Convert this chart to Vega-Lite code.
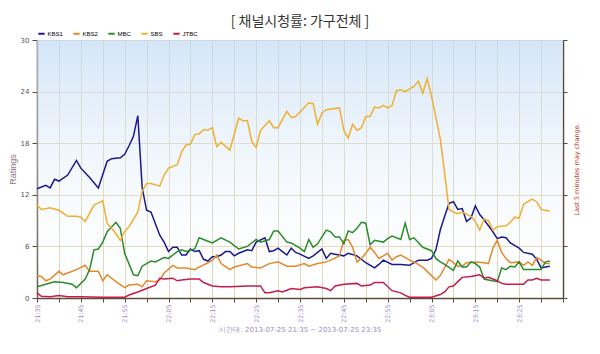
{
"$schema": "https://vega.github.io/schema/vega-lite/v6.json",
"width": 526, "height": 258,
"padding": {"left": 8, "top": 15, "right": 12, "bottom": 16},
"background": "white",
"title": {"text": "[ 채널시청률: 가구전체 ]", "font": "Noto Sans CJK KR", "fontSize": 14, "fontWeight": "normal", "color": "#333333", "anchor": "middle", "offset": 0},
"view": {"stroke": null},
"datasets": {
"bg": [{"t": "2013-07-25T21:35", "t2": "2013-07-25T23:35", "lo": 0, "hi": 30}],
"ratings": [
{"t":"2013-07-25T21:35","s":"KBS1","v":12.7},{"t":"2013-07-25T21:37","s":"KBS1","v":13.1},{"t":"2013-07-25T21:38","s":"KBS1","v":12.8},{"t":"2013-07-25T21:39","s":"KBS1","v":13.8},{"t":"2013-07-25T21:40","s":"KBS1","v":13.6},{"t":"2013-07-25T21:42","s":"KBS1","v":14.3},{"t":"2013-07-25T21:44","s":"KBS1","v":16.0},{"t":"2013-07-25T21:45","s":"KBS1","v":15.1},{"t":"2013-07-25T21:47","s":"KBS1","v":14.0},{"t":"2013-07-25T21:49","s":"KBS1","v":12.8},{"t":"2013-07-25T21:51","s":"KBS1","v":15.9},{"t":"2013-07-25T21:52","s":"KBS1","v":16.2},{"t":"2013-07-25T21:54","s":"KBS1","v":16.3},{"t":"2013-07-25T21:55","s":"KBS1","v":16.7},{"t":"2013-07-25T21:56","s":"KBS1","v":17.7},{"t":"2013-07-25T21:57","s":"KBS1","v":18.8},{"t":"2013-07-25T21:58","s":"KBS1","v":21.2},{"t":"2013-07-25T21:59","s":"KBS1","v":12.8},{"t":"2013-07-25T22:00","s":"KBS1","v":10.2},{"t":"2013-07-25T22:01","s":"KBS1","v":10.0},{"t":"2013-07-25T22:03","s":"KBS1","v":7.3},{"t":"2013-07-25T22:04","s":"KBS1","v":6.5},{"t":"2013-07-25T22:05","s":"KBS1","v":5.4},{"t":"2013-07-25T22:06","s":"KBS1","v":5.9},{"t":"2013-07-25T22:07","s":"KBS1","v":5.9},{"t":"2013-07-25T22:08","s":"KBS1","v":5.0},{"t":"2013-07-25T22:09","s":"KBS1","v":5.0},{"t":"2013-07-25T22:10","s":"KBS1","v":5.7},{"t":"2013-07-25T22:11","s":"KBS1","v":5.4},{"t":"2013-07-25T22:12","s":"KBS1","v":5.5},{"t":"2013-07-25T22:13","s":"KBS1","v":4.5},{"t":"2013-07-25T22:14","s":"KBS1","v":4.3},{"t":"2013-07-25T22:15","s":"KBS1","v":4.8},{"t":"2013-07-25T22:16","s":"KBS1","v":4.8},{"t":"2013-07-25T22:17","s":"KBS1","v":5.0},{"t":"2013-07-25T22:18","s":"KBS1","v":5.4},{"t":"2013-07-25T22:19","s":"KBS1","v":5.4},{"t":"2013-07-25T22:20","s":"KBS1","v":4.9},{"t":"2013-07-25T22:21","s":"KBS1","v":5.2},{"t":"2013-07-25T22:23","s":"KBS1","v":5.6},{"t":"2013-07-25T22:24","s":"KBS1","v":5.5},{"t":"2013-07-25T22:25","s":"KBS1","v":6.5},{"t":"2013-07-25T22:27","s":"KBS1","v":7.0},{"t":"2013-07-25T22:28","s":"KBS1","v":5.4},{"t":"2013-07-25T22:29","s":"KBS1","v":5.5},{"t":"2013-07-25T22:30","s":"KBS1","v":5.8},{"t":"2013-07-25T22:31","s":"KBS1","v":5.4},{"t":"2013-07-25T22:32","s":"KBS1","v":5.0},{"t":"2013-07-25T22:33","s":"KBS1","v":5.8},{"t":"2013-07-25T22:34","s":"KBS1","v":5.3},{"t":"2013-07-25T22:35","s":"KBS1","v":5.1},{"t":"2013-07-25T22:37","s":"KBS1","v":4.6},{"t":"2013-07-25T22:38","s":"KBS1","v":4.9},{"t":"2013-07-25T22:40","s":"KBS1","v":5.7},{"t":"2013-07-25T22:41","s":"KBS1","v":4.6},{"t":"2013-07-25T22:42","s":"KBS1","v":5.2},{"t":"2013-07-25T22:43","s":"KBS1","v":5.1},{"t":"2013-07-25T22:45","s":"KBS1","v":4.9},{"t":"2013-07-25T22:46","s":"KBS1","v":5.2},{"t":"2013-07-25T22:48","s":"KBS1","v":4.9},{"t":"2013-07-25T22:50","s":"KBS1","v":4.1},{"t":"2013-07-25T22:52","s":"KBS1","v":3.5},{"t":"2013-07-25T22:53","s":"KBS1","v":3.9},{"t":"2013-07-25T22:54","s":"KBS1","v":4.4},{"t":"2013-07-25T22:56","s":"KBS1","v":3.9},{"t":"2013-07-25T22:58","s":"KBS1","v":3.9},{"t":"2013-07-25T23:00","s":"KBS1","v":3.8},{"t":"2013-07-25T23:02","s":"KBS1","v":4.4},{"t":"2013-07-25T23:04","s":"KBS1","v":4.4},{"t":"2013-07-25T23:05","s":"KBS1","v":4.6},{"t":"2013-07-25T23:06","s":"KBS1","v":5.6},{"t":"2013-07-25T23:07","s":"KBS1","v":7.9},{"t":"2013-07-25T23:08","s":"KBS1","v":9.5},{"t":"2013-07-25T23:09","s":"KBS1","v":11.0},{"t":"2013-07-25T23:10","s":"KBS1","v":11.2},{"t":"2013-07-25T23:11","s":"KBS1","v":10.3},{"t":"2013-07-25T23:12","s":"KBS1","v":10.4},{"t":"2013-07-25T23:13","s":"KBS1","v":8.9},{"t":"2013-07-25T23:14","s":"KBS1","v":9.3},{"t":"2013-07-25T23:15","s":"KBS1","v":10.7},{"t":"2013-07-25T23:16","s":"KBS1","v":9.7},{"t":"2013-07-25T23:17","s":"KBS1","v":9.1},{"t":"2013-07-25T23:19","s":"KBS1","v":7.7},{"t":"2013-07-25T23:20","s":"KBS1","v":6.9},{"t":"2013-07-25T23:21","s":"KBS1","v":7.1},{"t":"2013-07-25T23:22","s":"KBS1","v":7.0},{"t":"2013-07-25T23:23","s":"KBS1","v":6.4},{"t":"2013-07-25T23:25","s":"KBS1","v":5.8},{"t":"2013-07-25T23:26","s":"KBS1","v":5.3},{"t":"2013-07-25T23:28","s":"KBS1","v":5.1},{"t":"2013-07-25T23:29","s":"KBS1","v":4.5},{"t":"2013-07-25T23:30","s":"KBS1","v":3.5},{"t":"2013-07-25T23:31","s":"KBS1","v":3.6},{"t":"2013-07-25T23:32","s":"KBS1","v":3.7},
{"t":"2013-07-25T21:35","s":"KBS2","v":2.6},{"t":"2013-07-25T21:36","s":"KBS2","v":2.5},{"t":"2013-07-25T21:37","s":"KBS2","v":2.0},{"t":"2013-07-25T21:38","s":"KBS2","v":2.2},{"t":"2013-07-25T21:40","s":"KBS2","v":3.1},{"t":"2013-07-25T21:41","s":"KBS2","v":2.7},{"t":"2013-07-25T21:42","s":"KBS2","v":2.9},{"t":"2013-07-25T21:44","s":"KBS2","v":3.3},{"t":"2013-07-25T21:46","s":"KBS2","v":3.8},{"t":"2013-07-25T21:47","s":"KBS2","v":3.1},{"t":"2013-07-25T21:49","s":"KBS2","v":3.1},{"t":"2013-07-25T21:50","s":"KBS2","v":2.0},{"t":"2013-07-25T21:51","s":"KBS2","v":2.7},{"t":"2013-07-25T21:53","s":"KBS2","v":1.9},{"t":"2013-07-25T21:55","s":"KBS2","v":1.2},{"t":"2013-07-25T21:56","s":"KBS2","v":1.5},{"t":"2013-07-25T21:58","s":"KBS2","v":1.6},{"t":"2013-07-25T21:59","s":"KBS2","v":1.3},{"t":"2013-07-25T22:00","s":"KBS2","v":2.0},{"t":"2013-07-25T22:02","s":"KBS2","v":1.9},{"t":"2013-07-25T22:03","s":"KBS2","v":2.1},{"t":"2013-07-25T22:04","s":"KBS2","v":2.9},{"t":"2013-07-25T22:06","s":"KBS2","v":3.8},{"t":"2013-07-25T22:07","s":"KBS2","v":3.5},{"t":"2013-07-25T22:09","s":"KBS2","v":3.5},{"t":"2013-07-25T22:11","s":"KBS2","v":3.3},{"t":"2013-07-25T22:12","s":"KBS2","v":3.6},{"t":"2013-07-25T22:14","s":"KBS2","v":4.1},{"t":"2013-07-25T22:15","s":"KBS2","v":4.4},{"t":"2013-07-25T22:16","s":"KBS2","v":5.0},{"t":"2013-07-25T22:17","s":"KBS2","v":4.0},{"t":"2013-07-25T22:19","s":"KBS2","v":3.3},{"t":"2013-07-25T22:20","s":"KBS2","v":3.6},{"t":"2013-07-25T22:23","s":"KBS2","v":4.0},{"t":"2013-07-25T22:24","s":"KBS2","v":3.6},{"t":"2013-07-25T22:26","s":"KBS2","v":3.5},{"t":"2013-07-25T22:28","s":"KBS2","v":4.0},{"t":"2013-07-25T22:30","s":"KBS2","v":4.2},{"t":"2013-07-25T22:32","s":"KBS2","v":3.7},{"t":"2013-07-25T22:34","s":"KBS2","v":3.7},{"t":"2013-07-25T22:36","s":"KBS2","v":4.0},{"t":"2013-07-25T22:37","s":"KBS2","v":3.7},{"t":"2013-07-25T22:39","s":"KBS2","v":4.0},{"t":"2013-07-25T22:41","s":"KBS2","v":4.2},{"t":"2013-07-25T22:42","s":"KBS2","v":4.4},{"t":"2013-07-25T22:44","s":"KBS2","v":4.9},{"t":"2013-07-25T22:45","s":"KBS2","v":6.7},{"t":"2013-07-25T22:46","s":"KBS2","v":6.8},{"t":"2013-07-25T22:47","s":"KBS2","v":5.9},{"t":"2013-07-25T22:48","s":"KBS2","v":4.2},{"t":"2013-07-25T22:49","s":"KBS2","v":4.6},{"t":"2013-07-25T22:50","s":"KBS2","v":5.2},{"t":"2013-07-25T22:51","s":"KBS2","v":5.9},{"t":"2013-07-25T22:52","s":"KBS2","v":5.3},{"t":"2013-07-25T22:53","s":"KBS2","v":4.6},{"t":"2013-07-25T22:55","s":"KBS2","v":5.2},{"t":"2013-07-25T22:56","s":"KBS2","v":4.4},{"t":"2013-07-25T22:57","s":"KBS2","v":4.8},{"t":"2013-07-25T22:58","s":"KBS2","v":5.0},{"t":"2013-07-25T23:00","s":"KBS2","v":4.4},{"t":"2013-07-25T23:01","s":"KBS2","v":4.2},{"t":"2013-07-25T23:03","s":"KBS2","v":3.6},{"t":"2013-07-25T23:04","s":"KBS2","v":3.1},{"t":"2013-07-25T23:05","s":"KBS2","v":2.6},{"t":"2013-07-25T23:06","s":"KBS2","v":2.1},{"t":"2013-07-25T23:07","s":"KBS2","v":2.6},{"t":"2013-07-25T23:09","s":"KBS2","v":4.5},{"t":"2013-07-25T23:10","s":"KBS2","v":4.1},{"t":"2013-07-25T23:11","s":"KBS2","v":3.7},{"t":"2013-07-25T23:12","s":"KBS2","v":3.7},{"t":"2013-07-25T23:13","s":"KBS2","v":4.1},{"t":"2013-07-25T23:15","s":"KBS2","v":4.2},{"t":"2013-07-25T23:17","s":"KBS2","v":4.1},{"t":"2013-07-25T23:18","s":"KBS2","v":4.0},{"t":"2013-07-25T23:19","s":"KBS2","v":5.8},{"t":"2013-07-25T23:20","s":"KBS2","v":6.7},{"t":"2013-07-25T23:21","s":"KBS2","v":5.3},{"t":"2013-07-25T23:22","s":"KBS2","v":4.6},{"t":"2013-07-25T23:23","s":"KBS2","v":4.1},{"t":"2013-07-25T23:25","s":"KBS2","v":4.2},{"t":"2013-07-25T23:26","s":"KBS2","v":3.8},{"t":"2013-07-25T23:27","s":"KBS2","v":4.2},{"t":"2013-07-25T23:28","s":"KBS2","v":3.8},{"t":"2013-07-25T23:29","s":"KBS2","v":4.7},{"t":"2013-07-25T23:30","s":"KBS2","v":4.4},{"t":"2013-07-25T23:31","s":"KBS2","v":4.0},{"t":"2013-07-25T23:32","s":"KBS2","v":4.0},
{"t":"2013-07-25T21:35","s":"MBC","v":1.3},{"t":"2013-07-25T21:37","s":"MBC","v":1.6},{"t":"2013-07-25T21:39","s":"MBC","v":1.9},{"t":"2013-07-25T21:41","s":"MBC","v":1.8},{"t":"2013-07-25T21:43","s":"MBC","v":1.6},{"t":"2013-07-25T21:44","s":"MBC","v":1.2},{"t":"2013-07-25T21:46","s":"MBC","v":2.2},{"t":"2013-07-25T21:47","s":"MBC","v":3.3},{"t":"2013-07-25T21:48","s":"MBC","v":5.6},{"t":"2013-07-25T21:49","s":"MBC","v":5.7},{"t":"2013-07-25T21:50","s":"MBC","v":6.5},{"t":"2013-07-25T21:51","s":"MBC","v":7.7},{"t":"2013-07-25T21:53","s":"MBC","v":8.8},{"t":"2013-07-25T21:54","s":"MBC","v":8.1},{"t":"2013-07-25T21:55","s":"MBC","v":5.2},{"t":"2013-07-25T21:57","s":"MBC","v":2.7},{"t":"2013-07-25T21:58","s":"MBC","v":2.6},{"t":"2013-07-25T21:59","s":"MBC","v":3.7},{"t":"2013-07-25T22:01","s":"MBC","v":4.3},{"t":"2013-07-25T22:02","s":"MBC","v":4.2},{"t":"2013-07-25T22:04","s":"MBC","v":4.7},{"t":"2013-07-25T22:05","s":"MBC","v":4.6},{"t":"2013-07-25T22:07","s":"MBC","v":5.4},{"t":"2013-07-25T22:08","s":"MBC","v":5.6},{"t":"2013-07-25T22:09","s":"MBC","v":5.4},{"t":"2013-07-25T22:11","s":"MBC","v":5.7},{"t":"2013-07-25T22:12","s":"MBC","v":7.0},{"t":"2013-07-25T22:13","s":"MBC","v":6.8},{"t":"2013-07-25T22:15","s":"MBC","v":6.4},{"t":"2013-07-25T22:17","s":"MBC","v":7.0},{"t":"2013-07-25T22:19","s":"MBC","v":6.5},{"t":"2013-07-25T22:21","s":"MBC","v":5.7},{"t":"2013-07-25T22:23","s":"MBC","v":6.0},{"t":"2013-07-25T22:25","s":"MBC","v":6.8},{"t":"2013-07-25T22:26","s":"MBC","v":6.5},{"t":"2013-07-25T22:28","s":"MBC","v":6.8},{"t":"2013-07-25T22:29","s":"MBC","v":7.8},{"t":"2013-07-25T22:30","s":"MBC","v":7.8},{"t":"2013-07-25T22:32","s":"MBC","v":6.5},{"t":"2013-07-25T22:33","s":"MBC","v":6.4},{"t":"2013-07-25T22:35","s":"MBC","v":5.8},{"t":"2013-07-25T22:36","s":"MBC","v":5.4},{"t":"2013-07-25T22:37","s":"MBC","v":6.8},{"t":"2013-07-25T22:38","s":"MBC","v":5.9},{"t":"2013-07-25T22:39","s":"MBC","v":6.3},{"t":"2013-07-25T22:41","s":"MBC","v":7.9},{"t":"2013-07-25T22:42","s":"MBC","v":7.7},{"t":"2013-07-25T22:43","s":"MBC","v":7.1},{"t":"2013-07-25T22:44","s":"MBC","v":7.1},{"t":"2013-07-25T22:45","s":"MBC","v":6.3},{"t":"2013-07-25T22:46","s":"MBC","v":7.8},{"t":"2013-07-25T22:47","s":"MBC","v":7.6},{"t":"2013-07-25T22:48","s":"MBC","v":8.1},{"t":"2013-07-25T22:49","s":"MBC","v":8.8},{"t":"2013-07-25T22:50","s":"MBC","v":8.7},{"t":"2013-07-25T22:51","s":"MBC","v":6.2},{"t":"2013-07-25T22:52","s":"MBC","v":6.7},{"t":"2013-07-25T22:54","s":"MBC","v":6.5},{"t":"2013-07-25T22:55","s":"MBC","v":6.9},{"t":"2013-07-25T22:56","s":"MBC","v":7.2},{"t":"2013-07-25T22:58","s":"MBC","v":6.8},{"t":"2013-07-25T22:59","s":"MBC","v":8.7},{"t":"2013-07-25T23:00","s":"MBC","v":6.8},{"t":"2013-07-25T23:01","s":"MBC","v":7.0},{"t":"2013-07-25T23:03","s":"MBC","v":5.9},{"t":"2013-07-25T23:05","s":"MBC","v":5.5},{"t":"2013-07-25T23:06","s":"MBC","v":4.6},{"t":"2013-07-25T23:07","s":"MBC","v":4.2},{"t":"2013-07-25T23:08","s":"MBC","v":3.9},{"t":"2013-07-25T23:10","s":"MBC","v":3.2},{"t":"2013-07-25T23:11","s":"MBC","v":4.3},{"t":"2013-07-25T23:12","s":"MBC","v":3.6},{"t":"2013-07-25T23:13","s":"MBC","v":3.6},{"t":"2013-07-25T23:14","s":"MBC","v":4.2},{"t":"2013-07-25T23:15","s":"MBC","v":4.0},{"t":"2013-07-25T23:16","s":"MBC","v":3.6},{"t":"2013-07-25T23:17","s":"MBC","v":2.2},{"t":"2013-07-25T23:18","s":"MBC","v":2.1},{"t":"2013-07-25T23:20","s":"MBC","v":1.9},{"t":"2013-07-25T23:21","s":"MBC","v":3.5},{"t":"2013-07-25T23:22","s":"MBC","v":3.3},{"t":"2013-07-25T23:23","s":"MBC","v":3.7},{"t":"2013-07-25T23:24","s":"MBC","v":3.6},{"t":"2013-07-25T23:25","s":"MBC","v":4.2},{"t":"2013-07-25T23:26","s":"MBC","v":3.3},{"t":"2013-07-25T23:28","s":"MBC","v":3.3},{"t":"2013-07-25T23:30","s":"MBC","v":3.3},{"t":"2013-07-25T23:31","s":"MBC","v":4.2},{"t":"2013-07-25T23:32","s":"MBC","v":4.3},
{"t":"2013-07-25T21:35","s":"SBS","v":10.8},{"t":"2013-07-25T21:36","s":"SBS","v":10.3},{"t":"2013-07-25T21:38","s":"SBS","v":10.5},{"t":"2013-07-25T21:40","s":"SBS","v":10.2},{"t":"2013-07-25T21:42","s":"SBS","v":9.5},{"t":"2013-07-25T21:44","s":"SBS","v":9.5},{"t":"2013-07-25T21:45","s":"SBS","v":9.4},{"t":"2013-07-25T21:46","s":"SBS","v":8.9},{"t":"2013-07-25T21:48","s":"SBS","v":10.8},{"t":"2013-07-25T21:50","s":"SBS","v":11.3},{"t":"2013-07-25T21:51","s":"SBS","v":8.7},{"t":"2013-07-25T21:53","s":"SBS","v":7.5},{"t":"2013-07-25T21:54","s":"SBS","v":6.7},{"t":"2013-07-25T21:55","s":"SBS","v":7.7},{"t":"2013-07-25T21:56","s":"SBS","v":8.3},{"t":"2013-07-25T21:58","s":"SBS","v":10.0},{"t":"2013-07-25T21:59","s":"SBS","v":12.4},{"t":"2013-07-25T22:00","s":"SBS","v":13.3},{"t":"2013-07-25T22:01","s":"SBS","v":13.3},{"t":"2013-07-25T22:03","s":"SBS","v":13.0},{"t":"2013-07-25T22:04","s":"SBS","v":14.3},{"t":"2013-07-25T22:05","s":"SBS","v":15.1},{"t":"2013-07-25T22:07","s":"SBS","v":15.5},{"t":"2013-07-25T22:08","s":"SBS","v":17.0},{"t":"2013-07-25T22:09","s":"SBS","v":17.8},{"t":"2013-07-25T22:10","s":"SBS","v":17.9},{"t":"2013-07-25T22:11","s":"SBS","v":19.0},{"t":"2013-07-25T22:12","s":"SBS","v":19.1},{"t":"2013-07-25T22:13","s":"SBS","v":19.6},{"t":"2013-07-25T22:14","s":"SBS","v":19.5},{"t":"2013-07-25T22:15","s":"SBS","v":19.8},{"t":"2013-07-25T22:16","s":"SBS","v":17.6},{"t":"2013-07-25T22:17","s":"SBS","v":18.1},{"t":"2013-07-25T22:19","s":"SBS","v":17.2},{"t":"2013-07-25T22:21","s":"SBS","v":20.9},{"t":"2013-07-25T22:22","s":"SBS","v":20.6},{"t":"2013-07-25T22:23","s":"SBS","v":20.6},{"t":"2013-07-25T22:24","s":"SBS","v":18.2},{"t":"2013-07-25T22:25","s":"SBS","v":17.5},{"t":"2013-07-25T22:26","s":"SBS","v":19.5},{"t":"2013-07-25T22:28","s":"SBS","v":20.6},{"t":"2013-07-25T22:29","s":"SBS","v":19.8},{"t":"2013-07-25T22:30","s":"SBS","v":19.8},{"t":"2013-07-25T22:32","s":"SBS","v":21.7},{"t":"2013-07-25T22:33","s":"SBS","v":21.0},{"t":"2013-07-25T22:34","s":"SBS","v":21.1},{"t":"2013-07-25T22:37","s":"SBS","v":22.7},{"t":"2013-07-25T22:38","s":"SBS","v":22.6},{"t":"2013-07-25T22:39","s":"SBS","v":20.2},{"t":"2013-07-25T22:40","s":"SBS","v":21.5},{"t":"2013-07-25T22:41","s":"SBS","v":21.9},{"t":"2013-07-25T22:44","s":"SBS","v":22.1},{"t":"2013-07-25T22:45","s":"SBS","v":19.5},{"t":"2013-07-25T22:46","s":"SBS","v":18.6},{"t":"2013-07-25T22:47","s":"SBS","v":20.2},{"t":"2013-07-25T22:48","s":"SBS","v":19.5},{"t":"2013-07-25T22:49","s":"SBS","v":19.8},{"t":"2013-07-25T22:50","s":"SBS","v":21.1},{"t":"2013-07-25T22:51","s":"SBS","v":21.1},{"t":"2013-07-25T22:52","s":"SBS","v":22.2},{"t":"2013-07-25T22:53","s":"SBS","v":22.1},{"t":"2013-07-25T22:54","s":"SBS","v":22.4},{"t":"2013-07-25T22:55","s":"SBS","v":22.1},{"t":"2013-07-25T22:56","s":"SBS","v":22.4},{"t":"2013-07-25T22:57","s":"SBS","v":24.1},{"t":"2013-07-25T22:58","s":"SBS","v":24.2},{"t":"2013-07-25T22:59","s":"SBS","v":24.0},{"t":"2013-07-25T23:01","s":"SBS","v":24.6},{"t":"2013-07-25T23:02","s":"SBS","v":25.2},{"t":"2013-07-25T23:03","s":"SBS","v":23.8},{"t":"2013-07-25T23:04","s":"SBS","v":25.5},{"t":"2013-07-25T23:05","s":"SBS","v":23.5},{"t":"2013-07-25T23:06","s":"SBS","v":21.0},{"t":"2013-07-25T23:07","s":"SBS","v":18.5},{"t":"2013-07-25T23:08","s":"SBS","v":14.5},{"t":"2013-07-25T23:09","s":"SBS","v":10.3},{"t":"2013-07-25T23:10","s":"SBS","v":10.0},{"t":"2013-07-25T23:11","s":"SBS","v":9.8},{"t":"2013-07-25T23:12","s":"SBS","v":10.0},{"t":"2013-07-25T23:14","s":"SBS","v":9.5},{"t":"2013-07-25T23:15","s":"SBS","v":8.9},{"t":"2013-07-25T23:16","s":"SBS","v":7.9},{"t":"2013-07-25T23:17","s":"SBS","v":9.2},{"t":"2013-07-25T23:18","s":"SBS","v":9.0},{"t":"2013-07-25T23:19","s":"SBS","v":7.9},{"t":"2013-07-25T23:20","s":"SBS","v":8.3},{"t":"2013-07-25T23:22","s":"SBS","v":8.4},{"t":"2013-07-25T23:23","s":"SBS","v":8.8},{"t":"2013-07-25T23:24","s":"SBS","v":9.4},{"t":"2013-07-25T23:25","s":"SBS","v":9.3},{"t":"2013-07-25T23:26","s":"SBS","v":10.9},{"t":"2013-07-25T23:27","s":"SBS","v":11.2},{"t":"2013-07-25T23:28","s":"SBS","v":11.5},{"t":"2013-07-25T23:29","s":"SBS","v":11.2},{"t":"2013-07-25T23:30","s":"SBS","v":10.3},{"t":"2013-07-25T23:32","s":"SBS","v":10.1},
{"t":"2013-07-25T21:35","s":"JTBC","v":0.6},{"t":"2013-07-25T21:36","s":"JTBC","v":0.2},{"t":"2013-07-25T21:38","s":"JTBC","v":0.15},{"t":"2013-07-25T21:40","s":"JTBC","v":0.3},{"t":"2013-07-25T21:42","s":"JTBC","v":0.15},{"t":"2013-07-25T21:45","s":"JTBC","v":0.15},{"t":"2013-07-25T21:50","s":"JTBC","v":0.1},{"t":"2013-07-25T21:55","s":"JTBC","v":0.1},{"t":"2013-07-25T21:56","s":"JTBC","v":0.35},{"t":"2013-07-25T21:58","s":"JTBC","v":0.7},{"t":"2013-07-25T22:00","s":"JTBC","v":1.1},{"t":"2013-07-25T22:02","s":"JTBC","v":1.5},{"t":"2013-07-25T22:03","s":"JTBC","v":2.3},{"t":"2013-07-25T22:04","s":"JTBC","v":2.2},{"t":"2013-07-25T22:06","s":"JTBC","v":2.3},{"t":"2013-07-25T22:07","s":"JTBC","v":2.0},{"t":"2013-07-25T22:08","s":"JTBC","v":2.1},{"t":"2013-07-25T22:10","s":"JTBC","v":2.2},{"t":"2013-07-25T22:12","s":"JTBC","v":2.2},{"t":"2013-07-25T22:13","s":"JTBC","v":1.8},{"t":"2013-07-25T22:15","s":"JTBC","v":1.4},{"t":"2013-07-25T22:17","s":"JTBC","v":1.3},{"t":"2013-07-25T22:19","s":"JTBC","v":1.3},{"t":"2013-07-25T22:23","s":"JTBC","v":1.4},{"t":"2013-07-25T22:26","s":"JTBC","v":1.4},{"t":"2013-07-25T22:27","s":"JTBC","v":0.6},{"t":"2013-07-25T22:28","s":"JTBC","v":0.6},{"t":"2013-07-25T22:30","s":"JTBC","v":0.85},{"t":"2013-07-25T22:31","s":"JTBC","v":0.7},{"t":"2013-07-25T22:32","s":"JTBC","v":0.9},{"t":"2013-07-25T22:33","s":"JTBC","v":1.1},{"t":"2013-07-25T22:35","s":"JTBC","v":1.0},{"t":"2013-07-25T22:36","s":"JTBC","v":1.2},{"t":"2013-07-25T22:39","s":"JTBC","v":1.3},{"t":"2013-07-25T22:41","s":"JTBC","v":1.1},{"t":"2013-07-25T22:42","s":"JTBC","v":0.85},{"t":"2013-07-25T22:43","s":"JTBC","v":1.4},{"t":"2013-07-25T22:45","s":"JTBC","v":1.6},{"t":"2013-07-25T22:48","s":"JTBC","v":1.7},{"t":"2013-07-25T22:49","s":"JTBC","v":1.4},{"t":"2013-07-25T22:51","s":"JTBC","v":1.5},{"t":"2013-07-25T22:52","s":"JTBC","v":1.8},{"t":"2013-07-25T22:54","s":"JTBC","v":1.8},{"t":"2013-07-25T22:56","s":"JTBC","v":0.85},{"t":"2013-07-25T22:58","s":"JTBC","v":0.6},{"t":"2013-07-25T22:59","s":"JTBC","v":0.3},{"t":"2013-07-25T23:00","s":"JTBC","v":0.1},{"t":"2013-07-25T23:02","s":"JTBC","v":0.1},{"t":"2013-07-25T23:05","s":"JTBC","v":0.1},{"t":"2013-07-25T23:07","s":"JTBC","v":0.4},{"t":"2013-07-25T23:08","s":"JTBC","v":0.7},{"t":"2013-07-25T23:09","s":"JTBC","v":1.3},{"t":"2013-07-25T23:10","s":"JTBC","v":1.4},{"t":"2013-07-25T23:11","s":"JTBC","v":1.9},{"t":"2013-07-25T23:12","s":"JTBC","v":2.4},{"t":"2013-07-25T23:14","s":"JTBC","v":2.5},{"t":"2013-07-25T23:16","s":"JTBC","v":2.7},{"t":"2013-07-25T23:17","s":"JTBC","v":2.3},{"t":"2013-07-25T23:18","s":"JTBC","v":2.4},{"t":"2013-07-25T23:20","s":"JTBC","v":2.0},{"t":"2013-07-25T23:21","s":"JTBC","v":1.7},{"t":"2013-07-25T23:22","s":"JTBC","v":1.6},{"t":"2013-07-25T23:26","s":"JTBC","v":1.6},{"t":"2013-07-25T23:27","s":"JTBC","v":2.1},{"t":"2013-07-25T23:28","s":"JTBC","v":2.1},{"t":"2013-07-25T23:29","s":"JTBC","v":2.3},{"t":"2013-07-25T23:30","s":"JTBC","v":2.1},{"t":"2013-07-25T23:32","s":"JTBC","v":2.1}
]},
"encoding": {
  "x": {"field": "t", "type": "temporal", "scale": {"nice": false},
    "axis": {"title": "시간대: 2013-07-25 21:35 ~ 2013-07-25 23:35", "titleFont": "DejaVu Sans", "titleFontSize": 7, "titleFontWeight": "normal", "titleColor": "#9a8cc2", "titlePadding": 3,
      "tickCount": 24, "format": "%H:%M", "labelAngle": 270,
      "labelExpr": "minutes(datum.value) % 10 == 5 && hours(datum.value) * 60 + minutes(datum.value) < 1415 ? datum.label : ''",
      "labelFont": "DejaVu Sans", "labelFontSize": 6.3, "labelColor": "#9d88c5", "labelPadding": 2, "labelOverlap": false,
      "tickColor": "#5a4c3a", "tickSize": 4, "domainColor": "#5a4c3a", "domainWidth": 1.5,
      "grid": true, "gridColor": "#ddd0ae", "gridWidth": 1}}
},
"layer": [
  {"data": {"name": "bg"},
   "mark": {"type": "rect", "color": {"gradient": "linear", "x1": 0, "y1": 0, "x2": 0, "y2": 1, "stops": [{"offset": 0, "color": "rgba(196,220,245,0.72)"}, {"offset": 1, "color": "rgba(255,255,255,0.1)"}]}},
   "encoding": {
     "x2": {"field": "t2"},
     "y": {"field": "hi", "type": "quantitative", "scale": {"domain": [0, 30]}, "axis": null},
     "y2": {"field": "lo"}
   }},
  {"data": {"name": "ratings"},
   "mark": {"type": "line", "strokeWidth": 1.5},
   "encoding": {
     "y": {"field": "v", "type": "quantitative", "scale": {"domain": [0, 30]},
       "axis": {"orient": "left", "values": [0, 6, 12, 18, 24, 30], "title": "Ratings", "titleFont": "Liberation Sans", "titleFontSize": 9, "titleFontWeight": "normal", "titleColor": "#8a7888", "titlePadding": 3,
         "labelFont": "DejaVu Sans", "labelFontSize": 7, "labelColor": "#555555", "labelPadding": 3,
         "tickColor": "#5a4c3a", "tickSize": 5, "domainColor": "#5a4c3a", "domainWidth": 1.5,
         "grid": true, "gridColor": "#ddd0ae", "gridWidth": 1}},
     "color": {"field": "s", "type": "nominal",
       "scale": {"domain": ["KBS1", "KBS2", "MBC", "SBS", "JTBC"], "range": ["#1a1a8e", "#e5892e", "#2a8c2a", "#efb030", "#c41c4c"]},
       "legend": {"orient": "top", "direction": "horizontal", "title": null, "offset": 2,
         "symbolType": "stroke", "symbolStrokeWidth": 2, "symbolSize": 40, "labelFont": "Liberation Sans", "labelFontSize": 6, "labelOffset": 1.5, "columnPadding": 6}}
   }},
  {"data": {"name": "ratings"},
   "mark": {"type": "line", "strokeOpacity": 0},
   "encoding": {
     "detail": {"field": "s", "type": "nominal"},
     "y": {"field": "v", "type": "quantitative", "scale": {"domain": [0, 30]},
       "axis": {"orient": "right", "values": [0, 6, 12, 18, 24, 30], "labels": false, "grid": false,
         "title": "Last 5 minutes may change.", "titleAngle": 270, "titleFont": "DejaVu Sans", "titleFontSize": 6.5, "titleFontWeight": "normal", "titleColor": "#c0392b", "titlePadding": 12,
         "tickColor": "#5a4c3a", "tickSize": 4, "domainColor": "#5a4c3a", "domainWidth": 1.5}}
   }}
],
"resolve": {"axis": {"y": "independent"}}
}
